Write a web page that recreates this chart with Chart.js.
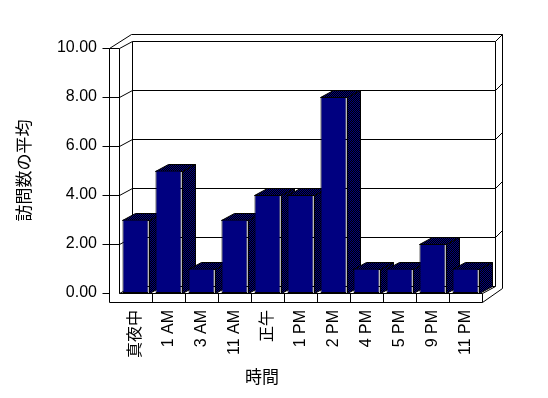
<!DOCTYPE html>
<html>
<head>
<meta charset="utf-8">
<script src="https://cdn.jsdelivr.net/npm/chart.js@4"></script>
<style>
  html, body { margin: 0; padding: 0; background: #fff; }
  #wrap { width: 548px; height: 398px; }
</style>
</head>
<body>
<div id="wrap"><canvas id="visitChart"></canvas></div>
<script>
// data
const hours = ['真夜中', '1 AM', '3 AM', '11 AM', '正午', '1 PM', '2 PM', '4 PM', '5 PM', '9 PM', '11 PM'];
const avgVisits = [3, 5, 1, 3, 4, 4, 8, 1, 1, 2, 1];
const yTicks = [0, 2, 4, 6, 8, 10];
const yTitle = '訪問数の平均';
const xTitle = '時間';

// 3d look (pixels)
const DX = 13, DY = -7;     // depth of the plot box
const WX = 7, WY = -7;      // back wall thickness
const WALL = 10, FLOOR = 9, TICK = 7;

const s = v => Math.round(v) + 0.5;

function line(ctx, x1, y1, x2, y2) {
  ctx.beginPath();
  ctx.moveTo(s(x1), s(y1));
  ctx.lineTo(s(x2), s(y2));
  ctx.stroke();
}

function poly(ctx, pts, fill) {
  ctx.beginPath();
  pts.forEach((p, i) => i ? ctx.lineTo(s(p[0]), s(p[1])) : ctx.moveTo(s(p[0]), s(p[1])));
  ctx.closePath();
  ctx.fillStyle = fill;
  ctx.fill();
  ctx.stroke();
}

function ditherPattern(ctx) {
  const c = document.createElement('canvas');
  c.width = 2; c.height = 2;
  const p = c.getContext('2d');
  p.fillStyle = '#000';
  p.fillRect(0, 0, 2, 2);
  p.fillStyle = '#000080';
  p.fillRect(0, 0, 1, 1);
  p.fillRect(1, 1, 1, 1);
  return ctx.createPattern(c, 'repeat');
}

const box3d = {
  id: 'box3d',
  beforeDatasetsDraw(chart) {
    const ctx = chart.ctx;
    const L = chart.chartArea.left, R = chart.chartArea.right;
    const ys = chart.scales.y;
    const B = ys.getPixelForValue(0), T = ys.getPixelForValue(ys.max);
    ctx.save();
    ctx.strokeStyle = '#000';
    ctx.lineWidth = 1;

    // back wall
    line(ctx, L + DX, T + DY, R + DX, T + DY);
    line(ctx, L + DX, T + DY, L + DX, B + DY);
    line(ctx, L + DX, B + DY, R + DX, B + DY);
    line(ctx, R + DX, T + DY, R + DX, B + DY);
    line(ctx, R + DX + WX, T + DY + WY, R + DX + WX, B + FLOOR + DY + WY);
    line(ctx, R + DX, T + DY, R + DX + WX, T + DY + WY);
    // wall tops
    line(ctx, L - WALL, T, L - WALL + DX + WX + 2, T + DY + WY);
    line(ctx, L - WALL + DX + WX + 2, T + DY + WY, R + DX + WX, T + DY + WY);
    line(ctx, L, T, L + DX, T + DY);
    // left wall front face
    line(ctx, L - WALL, T, L, T);
    line(ctx, L - WALL, T, L - WALL, B + FLOOR);
    line(ctx, L, T, L, B);
    line(ctx, L, B, L + DX, B + DY);
    // floor front face
    line(ctx, L, B, R, B);
    line(ctx, L - WALL, B + FLOOR, R, B + FLOOR);
    line(ctx, R, B, R, B + FLOOR);
    line(ctx, R, B, R + DX, B + DY);
    line(ctx, R, B + FLOOR, R + DX + WX, B + FLOOR + DY + WY);
    const n = hours.length, cw = (R - L) / n;
    for (let k = 1; k < n; k++) line(ctx, L + k * cw, B, L + k * cw, B + FLOOR);

    // gridlines and ticks
    yTicks.forEach(v => {
      const py = ys.getPixelForValue(v);
      line(ctx, L - WALL - TICK, py, L - WALL, py);
      if (v === 0 || v === ys.max) return;
      line(ctx, L - WALL, py, L, py);
      line(ctx, L, py, L + DX, py + DY);
      line(ctx, L + DX, py + DY, R + DX, py + DY);
      line(ctx, R + DX, py + DY, R + DX + WX, py + DY + WY);
    });

    // bar sides and tops, fronts are drawn by chart.js afterwards
    const shade = ditherPattern(ctx);
    chart.getDatasetMeta(0).data.forEach(bar => {
      const l = bar.x - bar.width / 2, r = bar.x + bar.width / 2;
      const t = bar.y, b = bar.base;
      poly(ctx, [[r, t], [r + DX, t + DY], [r + DX, b + DY], [r, b]], shade);
      poly(ctx, [[l, t], [l + DX, t + DY], [r + DX, t + DY], [r, t]], shade);
    });
    ctx.restore();
  },
  afterDraw(chart) {
    const ctx = chart.ctx;
    ctx.save();
    ctx.fillStyle = '#000';
    ctx.font = '17px "Noto Sans CJK JP"';
    ctx.textAlign = 'center';
    ctx.textBaseline = 'middle';
    ctx.fillText(xTitle, 262, 377);
    ctx.restore();
  }
};

Chart.defaults.color = '#000';
Chart.defaults.font.family = '"Liberation Sans", "Noto Sans CJK JP", sans-serif';

new Chart(document.getElementById('visitChart'), {
  type: 'bar',
  data: {
    labels: hours,
    datasets: [{
      data: avgVisits,
      backgroundColor: '#000080',
      borderColor: '#000',
      borderWidth: 1,
      borderSkipped: false,
      categoryPercentage: 1,
      barPercentage: 0.79
    }]
  },
  options: {
    responsive: true,
    maintainAspectRatio: false,
    animation: false,
    layout: { padding: { top: 48, right: 66, left: 0, bottom: 0 } },
    plugins: { legend: { display: false }, tooltip: { enabled: false } },
    scales: {
      x: {
        grid: { display: false, drawTicks: false },
        border: { display: false },
        ticks: { autoSkip: false, maxRotation: 90, minRotation: 90, padding: 17, font: { size: 16 } },
        afterFit(scale) { scale.height = 105; }
      },
      y: {
        min: 0,
        max: 10,
        grid: { display: false, drawTicks: false },
        border: { display: false },
        ticks: { stepSize: 2, padding: 22, font: { size: 16 }, callback: v => v.toFixed(2) },
        title: { display: true, text: yTitle, font: { size: 17, family: '"Noto Sans CJK JP"' }, padding: { top: 13, bottom: 0 } },
        afterFit(scale) { scale.width = 119; }
      }
    }
  },
  plugins: [box3d]
});
</script>
</body>
</html>
